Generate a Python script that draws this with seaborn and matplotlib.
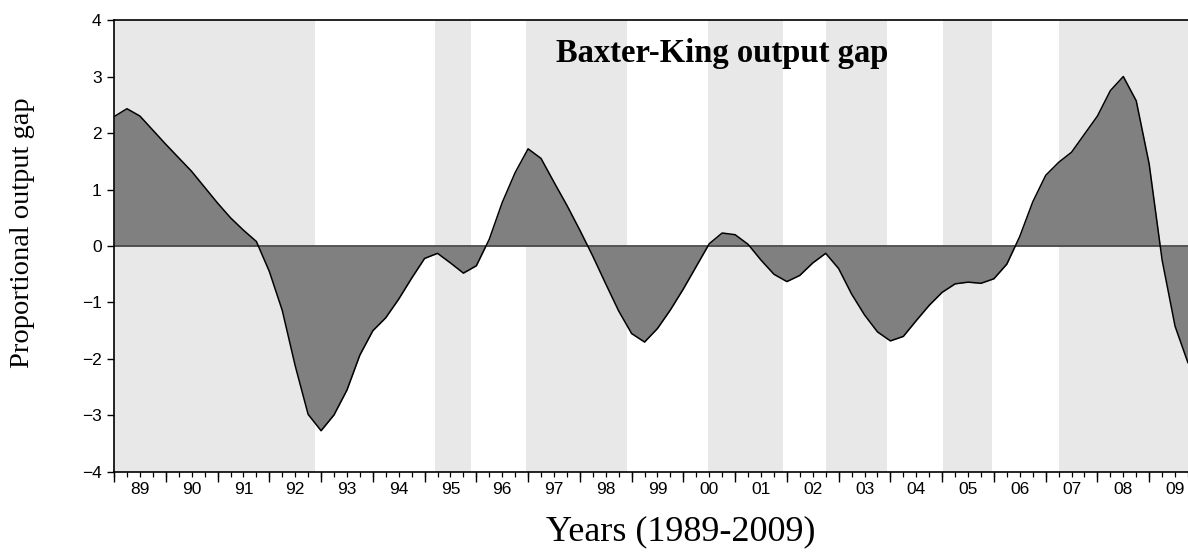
#!/usr/bin/python
'''
    Baxter-King output gap, quarterly 1989-2009
'''
import matplotlib
matplotlib.use('Agg')
import matplotlib.pyplot as plt
import numpy as np
import pandas as pd
import seaborn as sns

# quarterly output gap, 1989Q1 .. 2009Q4
GAP = [
    2.29, 2.43, 2.30, 2.05,   # 1989
    1.80, 1.56, 1.32, 1.04,   # 1990
    0.76, 0.50, 0.28, 0.08,   # 1991
    -0.45, -1.14, -2.12, -2.98,   # 1992
    -3.27, -2.99, -2.55, -1.93,   # 1993
    -1.50, -1.27, -0.94, -0.57,   # 1994
    -0.22, -0.13, -0.30, -0.48,   # 1995
    -0.35, 0.12, 0.77, 1.30,   # 1996
    1.72, 1.55, 1.13, 0.72,   # 1997
    0.28, -0.18, -0.67, -1.15,   # 1998
    -1.55, -1.70, -1.46, -1.13,   # 1999
    -0.76, -0.36, 0.04, 0.23,   # 2000
    0.20, 0.03, -0.25, -0.50,   # 2001
    -0.63, -0.52, -0.30, -0.13,   # 2002
    -0.40, -0.85, -1.22, -1.52,   # 2003
    -1.68, -1.60, -1.32, -1.05,   # 2004
    -0.82, -0.67, -0.64, -0.66,   # 2005
    -0.58, -0.32, 0.17, 0.78,   # 2006
    1.25, 1.48, 1.66, 1.98,   # 2007
    2.30, 2.75, 3.00, 2.57,   # 2008
    1.45, -0.25, -1.42, -2.07,   # 2009
]
FIRST_YEAR = 1989
LAST_YEAR = 2009

# shaded periods (start, end) in fractional years
SHADE_START = [1989.0, 1995.2, 1996.96, 2000.48, 2002.75, 2005.01, 2007.26]
SHADE_END = [1992.875, 1995.9, 1998.91, 2001.92, 2003.94, 2005.96, 2009.75]

YEAR_LABELS = [f'{y % 100:02d}' for y in range(FIRST_YEAR, LAST_YEAR + 1)]
Y_TICKS = [-4, -3, -2, -1, 0, 1, 2, 3, 4]

TITLE = 'Baxter-King output gap'
X_LABEL = 'Years (1989-2009)'
Y_LABEL = 'Proportional output gap'


def main():
    '''main'''
    sns.set_style('white')
    plt.rcParams['font.family'] = ['Liberation Sans', 'DejaVu Sans']
    plt.rcParams['text.color'] = 'black'
    plt.rcParams['xtick.color'] = 'black'
    plt.rcParams['ytick.color'] = 'black'

    time = FIRST_YEAR + np.arange(len(GAP)) / 4.0
    gap_df = pd.DataFrame({'time': time, 'gap': GAP})

    fig = plt.figure(figsize=(11.88, 5.53), dpi=100)
    axes = fig.add_axes([0.096, 0.1465, 0.904, 0.8173])

    for start, end in zip(SHADE_START, SHADE_END):
        axes.axvspan(start, end, color='#e8e8e8', lw=0, zorder=0)

    axes.fill_between(gap_df['time'], gap_df['gap'], 0, color='#808080', lw=0, zorder=1)
    axes.axhline(0, color='#4a4a4a', lw=1.3, zorder=2)
    sns.lineplot(x='time', y='gap', data=gap_df, color='black', lw=1.1, ax=axes, zorder=3)

    axes.set_xlim(FIRST_YEAR, LAST_YEAR + 0.75)
    axes.set_ylim(-4, 4)

    # labels sit in the middle of each year, quarters as minor ticks
    axes.xaxis.remove_overlapping_locs = False
    axes.set_xticks(np.arange(FIRST_YEAR, LAST_YEAR + 1) + 0.5)
    axes.set_xticklabels(YEAR_LABELS)
    axes.set_xticks(np.arange(FIRST_YEAR, LAST_YEAR + 1, 0.25), minor=True)
    axes.tick_params(axis='x', which='major', length=0, labelsize=12.5, pad=7,
                     labelcolor='black')
    axes.tick_params(axis='x', which='minor', length=3.5, width=0.9, color='black',
                     bottom=True, direction='out')

    year_axis = axes.secondary_xaxis('bottom')
    year_axis.set_xticks(np.arange(FIRST_YEAR, LAST_YEAR + 1))
    year_axis.tick_params(length=7, width=1.0, color='black', labelbottom=False, direction='out')
    year_axis.spines['bottom'].set_visible(False)

    axes.set_yticks(Y_TICKS)
    axes.tick_params(axis='y', length=5, width=1.0, color='black', left=True,
                     direction='out', labelsize=12.5, pad=4, labelcolor='black')

    for side in ['left', 'top', 'bottom']:
        axes.spines[side].set_color('black')
        axes.spines[side].set_linewidth(1.2)
    axes.spines['right'].set_visible(False)

    axes.set_xlabel('')
    axes.set_ylabel('')

    fig.text(0.608, 0.903, TITLE, ha='center', va='center', fontsize=23.5, color='black',
             fontweight='bold', family=['Liberation Serif', 'DejaVu Serif'])
    fig.text(0.573, 0.038, X_LABEL, ha='center', va='center', fontsize=26, color='black',
             family=['Liberation Serif', 'DejaVu Serif'])
    fig.text(0.019, 0.58, Y_LABEL, ha='center', va='center', rotation=90, fontsize=20.5,
             color='black', family=['Liberation Serif', 'DejaVu Serif'])

    fig.savefig('out.png', dpi=100)
    print('Saved out.png')


if __name__ == '__main__':
    main()
